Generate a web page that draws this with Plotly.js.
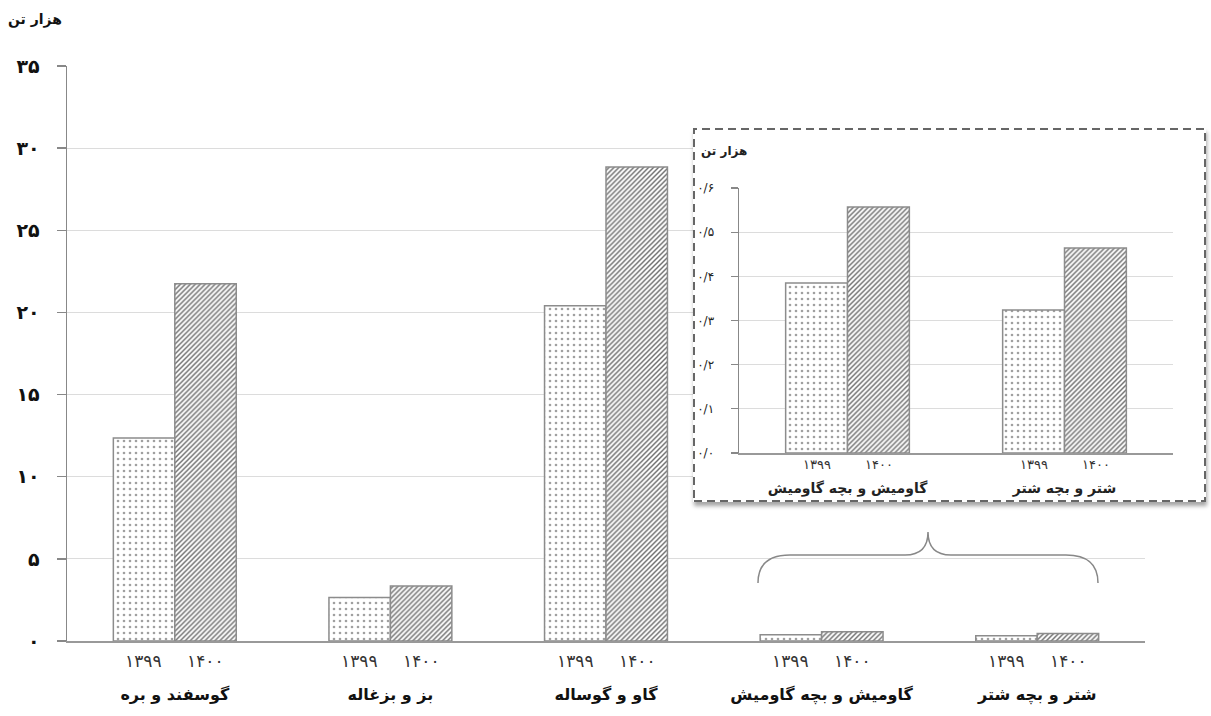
<!DOCTYPE html>
<html>
<head>
<meta charset="utf-8">
<script src="https://cdn.plot.ly/plotly-3.0.1.min.js"></script>
<style>
  html, body { margin: 0; padding: 0; background: #fff; overflow: hidden; }
  #main { position: absolute; left: 0; top: 0; width: 1211px; height: 716px; }
  #inset { position: absolute; left: 693px; top: 128px; width: 513px; height: 374px;
           background: #fff; box-shadow: 1px 4px 4px rgba(0,0,0,0.35); }
</style>
</head>
<body>
<div id="main"></div>
<div id="inset"></div>
<script>
// ---- data ----
const categories = ['گوسفند و بره', 'بز و بزغاله', 'گاو و گوساله', 'گاومیش و بچه گاومیش', 'شتر و بچه شتر'];
const values1399 = [12.35, 2.65, 20.4, 0.385, 0.324];
const values1400 = [21.75, 3.35, 28.85, 0.557, 0.464];
const yearLabels = ['۱۳۹۹', '۱۴۰۰'];
const mainTickVals = [0, 5, 10, 15, 20, 25, 30, 35];
const mainTickText = ['۰', '۵', '۱۰', '۱۵', '۲۰', '۲۵', '۳۰', '۳۵'];
const unitLabel = 'هزار تن';

const insetCategories = ['گاومیش و بچه گاومیش', 'شتر و بچه شتر'];
const inset1399 = [0.385, 0.324];
const inset1400 = [0.557, 0.464];
const insetTickVals = [0, 0.1, 0.2, 0.3, 0.4, 0.5, 0.6];
const insetTickText = ['۰/۰', '۰/۱', '۰/۲', '۰/۳', '۰/۴', '۰/۵', '۰/۶'];

// ---- styles ----
const FONT = 'DejaVu Sans, sans-serif';
const lineStyle = {color: '#8c8c8c', width: 1.5};
const pat1399 = {shape: '.', fgcolor: '#a0a0a0', bgcolor: '#ffffff', size: 6, solidity: 0.15};
const pat1400 = {shape: '/', fgcolor: '#6f6f6f', bgcolor: '#ffffff', size: 3.5, solidity: 0.42};

function yearAnnotations(cats, yshift, size, barUnit) {
  const out = [];
  cats.forEach(c => {
    yearLabels.forEach((y, i) => {
      out.push({
        x: c, xref: 'x', y: 0, yref: 'paper', xshift: (i === 0 ? -1 : 1) * barUnit,
        yshift: yshift, text: y, showarrow: false, xanchor: 'center', yanchor: 'middle',
        font: {family: FONT, size: size, color: '#333'}
      });
    });
  });
  return out;
}

// ---- main chart ----
const mainTraces = [
  {type: 'bar', name: yearLabels[0], x: categories, y: values1399,
   marker: {color: '#ffffff', pattern: pat1399, line: lineStyle}, hoverinfo: 'skip'},
  {type: 'bar', name: yearLabels[1], x: categories, y: values1400,
   marker: {color: '#ffffff', pattern: pat1400, line: lineStyle}, hoverinfo: 'skip'}
];

const bracePath = 'M 0.641 0.101 Q 0.641 0.1496 0.6707 0.1496 L 0.7774 0.1496 ' +
                  'Q 0.7987 0.1496 0.7987 0.1896 Q 0.7987 0.1496 0.820 0.1496 ' +
                  'L 0.9267 0.1496 Q 0.9564 0.1496 0.9564 0.101';

const mainLayout = {
  width: 1211, height: 716,
  margin: {l: 67, r: 66, t: 66, b: 75},
  paper_bgcolor: '#ffffff', plot_bgcolor: '#ffffff',
  showlegend: false,
  barmode: 'group', bargap: 0.43, bargroupgap: 0,
  font: {family: FONT},
  xaxis: {
    type: 'category', showline: true, linecolor: '#999', linewidth: 1.5,
    ticks: '', showgrid: false, zeroline: false,
    tickfont: {family: FONT, size: 16, color: '#111', weight: 'bold'},
    ticklabelstandoff: 38
  },
  yaxis: {
    range: [0, 35], tickmode: 'array', tickvals: mainTickVals, ticktext: mainTickText,
    showline: true, linecolor: '#888', linewidth: 1.5,
    ticks: 'outside', ticklen: 9, tickcolor: '#888', tickwidth: 1.5,
    showgrid: true, gridcolor: '#dcdcdc', gridwidth: 1, zeroline: false,
    tickfont: {family: FONT, size: 19, color: '#111', weight: 'bold'},
    ticklabelstandoff: 13
  },
  annotations: [
    {x: -0.0297, y: 1.08, xref: 'paper', yref: 'paper', text: unitLabel, showarrow: false,
     xanchor: 'center', yanchor: 'middle', font: {family: FONT, size: 14, color: '#111', weight: 'bold'}}
  ].concat(yearAnnotations(categories, -20, 17, 31)),
  shapes: [
    {type: 'path', xref: 'paper', yref: 'paper', path: bracePath,
     line: {color: '#888', width: 1.5}}
  ]
};

Plotly.newPlot('main', mainTraces, mainLayout, {staticPlot: true, displayModeBar: false});

// ---- inset chart ----
const insetTraces = [
  {type: 'bar', name: yearLabels[0], x: insetCategories, y: inset1399,
   marker: {color: '#ffffff', pattern: pat1399, line: lineStyle}, hoverinfo: 'skip'},
  {type: 'bar', name: yearLabels[1], x: insetCategories, y: inset1400,
   marker: {color: '#ffffff', pattern: pat1400, line: lineStyle}, hoverinfo: 'skip'}
];

const IW = 513, IH = 374, IL = 46, IR = 33, IT = 60, IB = 49;
const PW = IW - IL - IR, PH = IH - IT - IB;

const insetLayout = {
  width: IW, height: IH,
  margin: {l: IL, r: IR, t: IT, b: IB},
  paper_bgcolor: '#ffffff', plot_bgcolor: '#ffffff',
  showlegend: false,
  barmode: 'group', bargap: 0.43, bargroupgap: 0,
  font: {family: FONT},
  xaxis: {
    type: 'category', showline: true, linecolor: '#999', linewidth: 1.5,
    ticks: '', showgrid: false, zeroline: false,
    tickfont: {family: FONT, size: 14, color: '#222', weight: 'bold'},
    ticklabelstandoff: 22
  },
  yaxis: {
    range: [0, 0.6], tickmode: 'array', tickvals: insetTickVals, ticktext: insetTickText,
    showline: true, linecolor: '#888', linewidth: 1.5,
    ticks: 'outside', ticklen: 7, tickcolor: '#888', tickwidth: 1.2,
    showgrid: true, gridcolor: '#dcdcdc', gridwidth: 1, zeroline: false,
    tickfont: {family: FONT, size: 12, color: '#222'},
    ticklabelstandoff: 14
  },
  annotations: [
    {x: -0.0335, y: 1.1415, xref: 'paper', yref: 'paper', text: unitLabel, showarrow: false,
     xanchor: 'center', yanchor: 'middle', font: {family: FONT, size: 12, color: '#222', weight: 'bold'}}
  ].concat(yearAnnotations(insetCategories, -11, 13, 31)),
  shapes: [
    {type: 'rect', xref: 'paper', yref: 'paper',
     x0: -(IL - 1) / PW, x1: (PW + IR - 1) / PW, y0: -(IB - 1) / PH, y1: (PH + IT - 1) / PH,
     line: {color: '#666', width: 2, dash: '8px,5px'}, fillcolor: 'rgba(0,0,0,0)'}
  ]
};

Plotly.newPlot('inset', insetTraces, insetLayout, {staticPlot: true, displayModeBar: false});
</script>
</body>
</html>
